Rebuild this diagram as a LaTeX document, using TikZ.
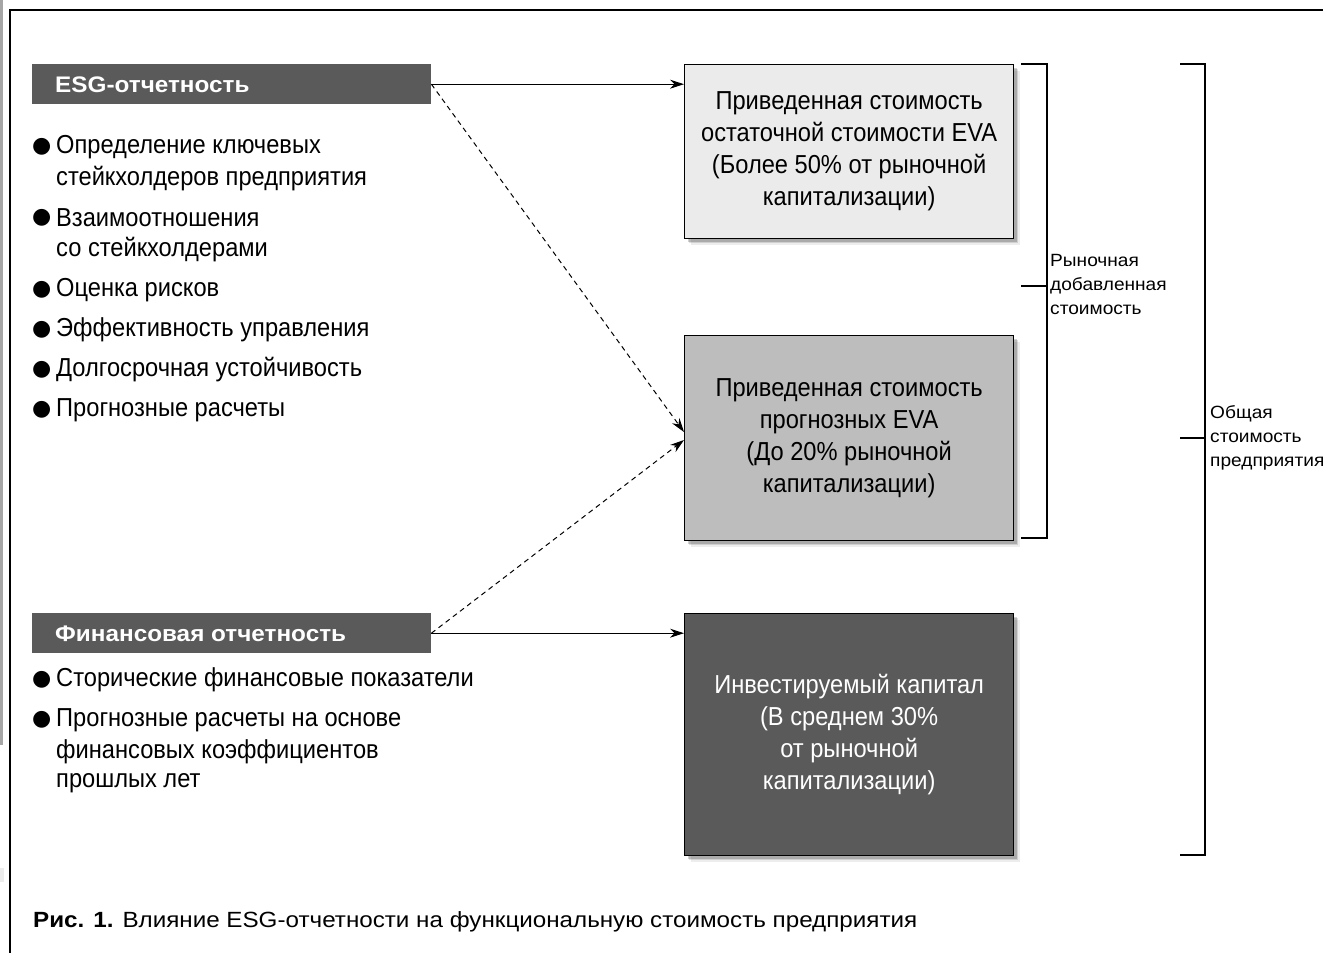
\documentclass[tikz,border=0pt]{standalone}
\usepackage{fontspec}
\setmainfont{Liberation Sans}
\newfontfamily\bodyfont[FakeStretch=0.91]{Liberation Sans}
\newfontfamily\hdrfont[FakeStretch=1.08]{Liberation Sans Bold}
\newfontfamily\capfont[FakeStretch=1.1]{Liberation Sans}
\newfontfamily\capbfont[FakeStretch=1.1]{Liberation Sans Bold}
\newfontfamily\lblfont[FakeStretch=1.08]{Liberation Sans}
\newfontfamily\bulfont{DejaVu Sans}
\usetikzlibrary{arrows.meta,shadows}
\begin{document}
\begin{tikzpicture}[x=1pt,y=-1pt,
  txt/.style={anchor=west,inner sep=0pt,font=\bodyfont\fontsize{26}{32}\selectfont},
  bul/.style={anchor=west,inner sep=0pt,font=\bulfont\fontsize{22}{26}\selectfont},
  hdr/.style={anchor=north west,fill=hdrgray,minimum width=399pt,minimum height=40pt,inner sep=0pt},
  hdrtxt/.style={anchor=west,inner sep=0pt,text=white,font=\hdrfont\fontsize{22.5}{26}\selectfont},
  softshadow/.style={
     drop shadow={shadow xshift=6pt,shadow yshift=-6pt,opacity=0.07,fill=black},
     drop shadow={shadow xshift=4.5pt,shadow yshift=-4.5pt,opacity=0.12,fill=black},
     drop shadow={shadow xshift=3pt,shadow yshift=-3pt,opacity=0.18,fill=black}},
  valbox/.style={anchor=north west,draw=black,line width=1.3pt,minimum width=329pt,inner sep=0pt,align=center,
     font=\bodyfont\fontsize{26}{32}\selectfont,softshadow},
  solidarr/.style={line width=1pt,-{Stealth[length=14pt,width=9pt]}},
  dasharr/.style={line width=1pt,dash pattern=on 5pt off 4pt,-{Stealth[length=14pt,width=9pt]}},
  brk/.style={line width=1.3pt},
  brktxt/.style={anchor=west,inner sep=0pt,align=left,font=\lblfont\fontsize{17.7}{24}\selectfont}
]
\definecolor{hdrgray}{HTML}{5A5A5A}
\definecolor{lightbox}{HTML}{EBEBEB}
\definecolor{midbox}{HTML}{BDBDBD}
\useasboundingbox[fill=white] (0,0) rectangle (1323,953);
% scan artefacts and frame
\fill[gray!70] (0,0) rectangle (3,745);
\fill[gray!15] (0,868) rectangle (4,882);
\draw[line width=1.5pt] (1323,10) -- (10,10) -- (10,953);

% ESG block
\node[hdr] (esg) at (32,64) {};
\node[hdrtxt] (esgt) at (55,85) {ESG-отчетность};
\node[bul] (e1d) at (32,147) {●};
\node[txt] (e1) at (56,147) {Определение ключевых};
\node[txt] (e1b) at (56,179) {стейкхолдеров предприятия};
\node[bul] (e2d) at (32,218) {●};
\node[txt] (e2) at (56,218) {Взаимоотношения};
\node[txt] (e2b) at (56,250) {со стейкхолдерами};
\node[bul] (e3d) at (32,290) {●};
\node[txt] (e3) at (56,290) {Оценка рисков};
\node[bul] (e4d) at (32,330) {●};
\node[txt] (e4) at (56,330) {Эффективность управления};
\node[bul] (e5d) at (32,370) {●};
\node[txt] (e5) at (56,370) {Долгосрочная устойчивость};
\node[bul] (e6d) at (32,410) {●};
\node[txt] (e6) at (56,410) {Прогнозные расчеты};

% Financial block
\node[hdr] (fin) at (32,613) {};
\node[hdrtxt] (fint) at (55,634) {Финансовая отчетность};
\node[bul] (f1d) at (32,680) {●};
\node[txt] (f1) at (56,680) {Сторические финансовые показатели};
\node[bul] (f2d) at (32,720) {●};
\node[txt] (f2) at (56,720) {Прогнозные расчеты на основе};
\node[txt] (f2b) at (56,752) {финансовых коэффициентов};
\node[txt] (f2c) at (56,783) {прошлых лет};

% value boxes
\node[valbox,fill=lightbox,minimum height=174pt] (b1) at (684,64)
  {Приведенная стоимость\\остаточной стоимости EVA\\(Более 50\% от рыночной\\капитализации)};
\node[valbox,fill=midbox,minimum height=205pt] (b2) at (684,335)
  {Приведенная стоимость\\прогнозных EVA\\(До 20\% рыночной\\капитализации)};
\node[valbox,fill=hdrgray,text=white,minimum height=242pt] (b3) at (684,613)
  {Инвестируемый капитал\\(В среднем 30\%\\от рыночной\\капитализации)};

% connectors
\coordinate (b2in1) at (684,432);
\coordinate (b2in2) at (684,440);
\draw[solidarr] (esg.east) -- (b1.west |- esg.east);
\draw[dasharr] (esg.east) -- (b2in1);
\draw[dasharr] (fin.east) -- (b2in2);
\draw[solidarr] (fin.east) -- (b3.west |- fin.east);

% brackets
\draw[brk] (1021,64) -- (1047,64) -- (1047,538) -- (1021,538);
\draw[brk] (1021,286) -- (1047,286);
\node[brktxt] (mva) at (1050,284) {Рыночная\\добавленная\\стоимость};
\draw[brk] (1180,64) -- (1205,64) -- (1205,855) -- (1180,855);
\draw[brk] (1180,438) -- (1205,438);
\node[brktxt] (tot) at (1210,438) {Общая\\стоимость\\предприятия};

% caption
\node[anchor=west,inner sep=0pt,font=\capfont\fontsize{22}{26}\selectfont] (cap) at (33,922)
  {{\capbfont Рис. 1.} Влияние ESG-отчетности на функциональную стоимость предприятия};
\end{tikzpicture}
\end{document}
